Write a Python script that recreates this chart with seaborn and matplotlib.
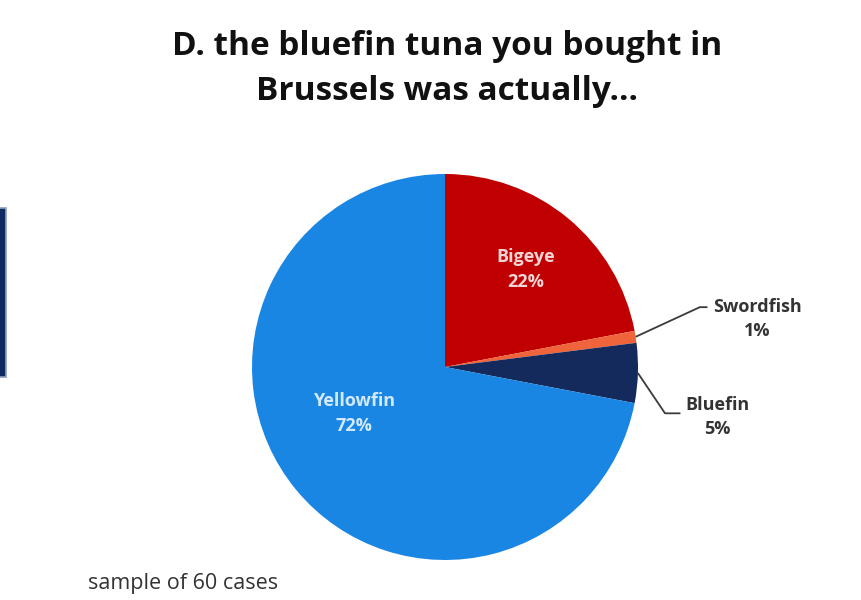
import numpy as np
import matplotlib
matplotlib.use("Agg")
import matplotlib.pyplot as plt
import seaborn as sns
from matplotlib.patches import Rectangle

categories = ["Bigeye", "Swordfish", "Bluefin", "Yellowfin"]
values = [22, 1, 5, 72]
pct_labels = ["22%", "1%", "5%", "72%"]
colors = ["#C00000", "#F0643C", "#14295C", "#1A86E4"]
title = "D. the bluefin tuna you bought in\nBrussels was actually..."
note = "sample of 60 cases"

sns.set_theme(style="white")
plt.rcParams['font.family'] = ['Open Sans', 'DejaVu Sans']

fig = plt.figure(figsize=(8.62, 6.0), dpi=100)
W, H = 862, 600
cx, cy, r = 445, 367, 193
ax = fig.add_axes([(cx - r) / W, (H - cy - r) / H, 2 * r / W, 2 * r / H])

wedges, _ = ax.pie(values, colors=colors, startangle=90, counterclock=False,
                   radius=1.0, wedgeprops=dict(linewidth=0))
ax.set_xlim(-1, 1)
ax.set_ylim(-1, 1)
ax.set_aspect('equal')
ax.axis('off')

def mid_angle(w):
    return np.deg2rad((w.theta1 + w.theta2) / 2)

# inside labels
inside = {"Bigeye": ("#F5D5D5", 0.655, 0.0), "Yellowfin": ("#D2E9FF", 0.53, -12.6)}
for w, cat, pct in zip(wedges, categories, pct_labels):
    if cat in inside:
        col, rr, off = inside[cat]
        a = mid_angle(w) + np.deg2rad(off)
        ax.text(rr * np.cos(a), rr * np.sin(a), f"{cat}\n{pct}", ha='center', va='center',
                color=col, fontsize=13, fontweight='bold', linespacing=1.45)

# outside labels with leader lines
outside = {"Swordfish": ((1.32, 0.31), (1.36, 0.31), (1.62, 0.25)),
           "Bluefin": ((1.14, -0.24), (1.22, -0.24), (1.41, -0.26))}
for w, cat, pct in zip(wedges, categories, pct_labels):
    if cat in outside:
        elbow, stub, txt = outside[cat]
        a = mid_angle(w)
        ax.plot([np.cos(a), elbow[0], stub[0]], [np.sin(a), elbow[1], stub[1]],
                color='#3a3a3a', lw=1.3, clip_on=False, solid_capstyle='butt')
        ax.text(txt[0], txt[1], f"{cat}\n{pct}", ha='center', va='center', color='#333333',
                fontsize=13, fontweight='bold', linespacing=1.45, clip_on=False)

fig.text(447 / W, 1 - 69 / H, title, ha='center', va='center', fontsize=24,
         fontweight='bold', color='#111111', linespacing=1.5)
fig.text(88 / W, 1 - 584 / H, note, ha='left', va='center', fontsize=15.5, color='#333333')

fig.patches.append(Rectangle((-4 / W, 1 - 377 / H), 10 / W, 169 / H, transform=fig.transFigure,
                             facecolor='#0E2A5E', edgecolor='#8FA0C0', linewidth=1.2))

fig.savefig("out.png", dpi=100, facecolor='white')
